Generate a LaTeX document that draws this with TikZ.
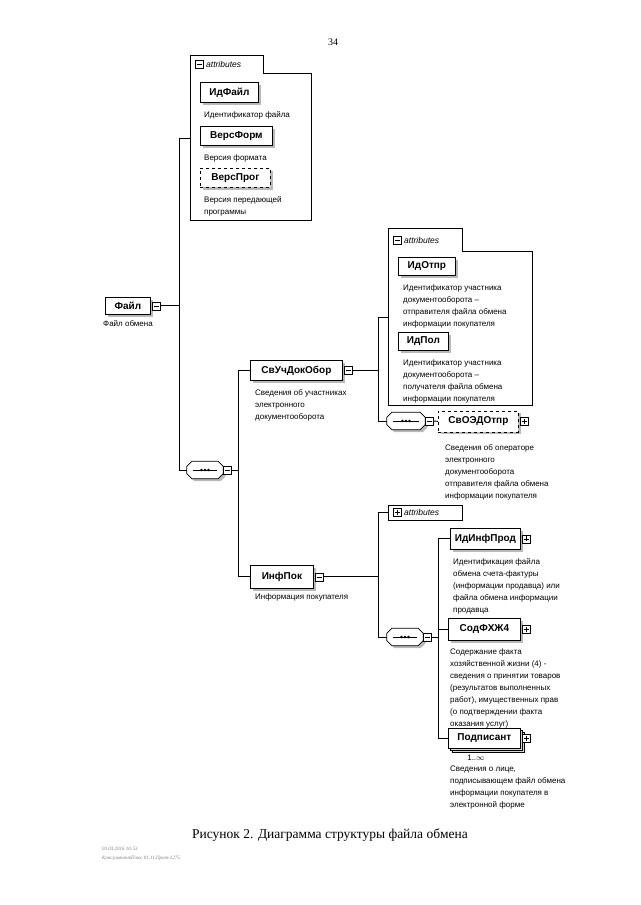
\documentclass[tikz,border=0pt]{standalone}
\usepackage{fontspec}
\setmainfont{Liberation Serif}
\setsansfont{Liberation Sans}
\usetikzlibrary{positioning, shadows}

\tikzset{
  conn/.style={line width=0.9pt},
  elem/.style={draw, thick, fill=white, anchor=north west, inner sep=0pt,
    font=\sffamily\bfseries\fontsize{10}{12}\selectfont,
    drop shadow={fill=gray!55, opacity=1, shadow xshift=2.5pt, shadow yshift=-2.5pt}},
  optelem/.style={elem, dashed},
  multielem/.style={draw, thick, fill=white, anchor=north west, inner sep=0pt,
    font=\sffamily\bfseries\fontsize{10}{12}\selectfont,
    double copy shadow={shadow xshift=2pt, shadow yshift=-2pt, fill=gray!30}},
  desc/.style={anchor=north west, align=left, inner sep=0pt,
    font=\sffamily\fontsize{8}{12}\selectfont},
  mbox/.style={draw, fill=white, minimum size=8pt, inner sep=0pt,
    path picture={\draw ([xshift=1.5pt]path picture bounding box.west) -- ([xshift=-1.5pt]path picture bounding box.east);}},
  pbox/.style={draw, fill=white, minimum size=8pt, inner sep=0pt,
    path picture={\draw ([xshift=1.5pt]path picture bounding box.west) -- ([xshift=-1.5pt]path picture bounding box.east);
      \draw ([yshift=1.5pt]path picture bounding box.south) -- ([yshift=-1.5pt]path picture bounding box.north);}},
  seqbox/.style={minimum width=36pt, minimum height=17pt, inner sep=0pt},
  tabtext/.style={anchor=west, inner sep=0pt, font=\sffamily\itshape\fontsize{8.5}{10}\selectfont},
  group/.style={thick, fill=white}
}

\newcommand\seqframe[1]{%
  \begin{scope}[transform canvas={shift={(2.5pt,-2.5pt)}}]
    \fill[gray!55] ([xshift=5pt]#1.north west) -- ([xshift=-5pt]#1.north east) -- ([yshift=-5pt]#1.north east)
      -- ([yshift=5pt]#1.south east) -- ([xshift=-5pt]#1.south east) -- ([xshift=5pt]#1.south west)
      -- ([yshift=5pt]#1.south west) -- ([yshift=-5pt]#1.north west) -- cycle;
  \end{scope}
  \draw[thick, fill=white] ([xshift=5pt]#1.north west) -- ([xshift=-5pt]#1.north east) -- ([yshift=-5pt]#1.north east)
    -- ([yshift=5pt]#1.south east) -- ([xshift=-5pt]#1.south east) -- ([xshift=5pt]#1.south west)
    -- ([yshift=5pt]#1.south west) -- ([yshift=-5pt]#1.north west) -- cycle;
  \draw ([xshift=6pt]#1.west) -- ([xshift=-6pt]#1.east);
  \foreach \d in {-3.5,0,3.5} \fill ([xshift=\d pt]#1.center) circle (1.4pt);
}

\begin{document}
\begin{tikzpicture}[x=1pt, y=-1pt]
\useasboundingbox[fill=white] (0,0) rectangle (640,905);

\node[font=\fontsize{10}{12}\selectfont] (pagenum) at (333,42) {34};

% attributes of the root
\draw[group] (190,220) -- (190,55) -- (263,55) -- (263,73) -- (311,73) -- (311,220) -- cycle;
\node[mbox] (a1m) at (199,64) {};
\node[tabtext] (a1t) at (206,64) {attributes};
\coordinate (a1) at (190,138);

\node[elem, minimum width=58, minimum height=20] (idfajl) at (200,82) {ИдФайл};
\node[desc] (idfajld) at (204,111.5) {Идентификатор файла};
\node[elem, minimum width=72, minimum height=19] (versform) at (200,126) {ВерсФорм};
\node[desc] (versformd) at (204,154.5) {Версия формата};
\node[optelem, minimum width=70, minimum height=19] (versprog) at (200,168) {ВерсПрог};
\node[desc] (versprogd) at (204,196.5) {Версия передающей\\программы};

% root
\node[elem, minimum width=45, minimum height=17] (fajl) at (105,297) {Файл};
\node[mbox, right=1pt of fajl] (fajlm) {};
\node[desc, anchor=north] (fajld) at (128,320) {Файл обмена};
\coordinate[right=19pt of fajlm] (j1);

\node[seqbox] (seq1) at (205,470) {};
\seqframe{seq1}
\node[mbox, right=0pt of seq1] (seq1m) {};
\coordinate[right=7pt of seq1m] (j2);

\draw[conn] (fajlm.east) -- (j1);
\draw[conn] (a1) -| (j1) |- (seq1.west);

% СвУчДокОбор
\node[elem, minimum width=92, minimum height=20] (svuch) at (250,360) {СвУчДокОбор};
\node[mbox, right=1pt of svuch] (svuchm) {};
\node[desc] (svuchd) at (255,389.5) {Сведения об участниках\\электронного\\документооборота};
\coordinate[right=26pt of svuchm] (j3);

\draw[group] (388,405) -- (388,228) -- (462,228) -- (462,251) -- (532,251) -- (532,405) -- cycle;
\node[mbox] (a2m) at (397,240) {};
\node[tabtext] (a2t) at (404,240) {attributes};
\coordinate (a2) at (388,317);

\node[elem, minimum width=57, minimum height=18] (idotpr) at (398,257) {ИдОтпр};
\node[desc] (idotprd) at (403,284.5) {Идентификатор участника\\документооборота --\\отправителя файла обмена\\информации покупателя};
\node[elem, minimum width=50, minimum height=18] (idpol) at (398,332) {ИдПол};
\node[desc] (idpold) at (403,359.5) {Идентификатор участника\\документооборота --\\получателя файла обмена\\информации покупателя};

\node[seqbox, minimum width=38pt] (seq2) at (406,421) {};
\seqframe{seq2}
\node[mbox, right=0pt of seq2] (seq2m) {};
\node[optelem, minimum width=80, minimum height=21] (svoedo) at (438,410.5) {СвОЭДОтпр};
\node[pbox, right=1pt of svoedo] (svoedop) {};
\node[desc] (svoedod) at (445,444.5) {Сведения об операторе\\электронного\\документооборота\\отправителя файла обмена\\информации покупателя};

\draw[conn] (svuchm.east) -- (j3);
\draw[conn] (a2) -| (j3) |- (seq2.west);
\draw[conn] (seq2m.east) -- (svoedo.west);

% ИнфПок
\node[elem, minimum width=63, minimum height=23] (infpok) at (250,565) {ИнфПок};
\node[mbox, right=1pt of infpok] (infpokm) {};
\node[desc] (infpokd) at (255,593.5) {Информация покупателя};
\coordinate[right=55pt of infpokm] (j4);

\draw[conn] (seq1m.east) -- (j2);
\draw[conn] (svuch.west) -| (j2) |- (infpok.west);

\node[draw, thick, fill=white, anchor=north west, minimum width=74, minimum height=15, inner sep=0pt] (attr3) at (388,505) {};
\node[pbox] (a3p) at (397,512.5) {};
\node[tabtext] (a3t) at (404,512.5) {attributes};

\node[seqbox] (seq3) at (405,637) {};
\seqframe{seq3}
\node[mbox, right=0pt of seq3] (seq3m) {};
\coordinate[right=7pt of seq3m] (j5);

\draw[conn] (infpokm.east) -- (j4);
\draw[conn] (attr3.west) -| (j4) |- (seq3.west);

\node[elem, minimum width=70, minimum height=21] (idinfprod) at (450,528) {ИдИнфПрод};
\node[pbox, right=1pt of idinfprod] (idinfprodp) {};
\node[desc] (idinfprodd) at (453,558.5) {Идентификация файла\\обмена счета-фактуры\\(информации продавца) или\\файла обмена информации\\продавца};

\node[elem, minimum width=72, minimum height=22] (sodfhzh) at (448,618) {СодФХЖ4};
\node[pbox, right=1pt of sodfhzh] (sodfhzhp) {};
\node[desc] (sodfhzhd) at (450,648.5) {Содержание факта\\хозяйственной жизни (4) -\\сведения о принятии товаров\\(результатов выполненных\\работ), имущественных прав\\(о подтверждении факта\\оказания услуг)};

\node[multielem, minimum width=72, minimum height=20] (podpisant) at (448,728) {Подписант};
\node[pbox, right=1pt of podpisant] (podpisantp) {};
\node[font=\sffamily\fontsize{8}{10}\selectfont, inner sep=0pt] (podpisantn) at (476,758) {1..$\infty$};
\node[desc] (podpisantd) at (450,766) {Сведения о лице,\\подписывающем файл обмена\\информации покупателя в\\электронной форме};

\draw[conn] (seq3m.east) -- (j5);
\draw[conn] (idinfprod.west) -| (j5);
\draw[conn] (sodfhzh.west) -| (j5);
\draw[conn] (podpisant.west) -| (j5);

\node[font=\fontsize{13.5}{16}\selectfont] (caption) at (330,835) {Рисунок 2. Диаграмма структуры файла обмена};
\node[anchor=west, inner sep=0pt, text=gray, font=\itshape\fontsize{5}{6}\selectfont] (stamp1) at (102,849) {03.03.2016 10:53};
\node[anchor=west, inner sep=0pt, text=gray, font=\itshape\fontsize{5}{6}\selectfont] (stamp2) at (102,858) {КонсультантПлюс 01.11.Прот-1275};
\end{tikzpicture}
\end{document}
